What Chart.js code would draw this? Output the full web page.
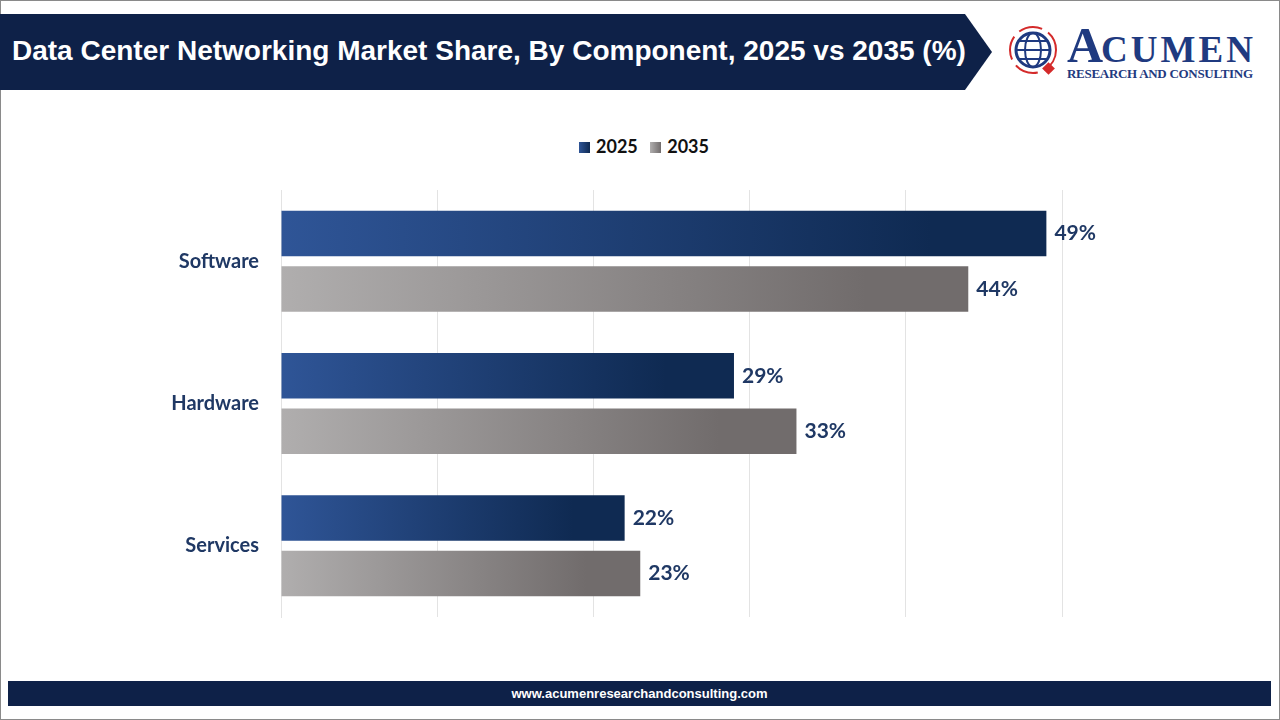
<!DOCTYPE html>
<html><head><meta charset="utf-8">
<script src="https://cdn.jsdelivr.net/npm/chart.js@4"></script>
<style>
body{margin:0;width:1280px;height:720px;position:relative;background:#fff;overflow:hidden;font-family:"Liberation Sans",Arial,sans-serif}
#frame{position:absolute;left:0;top:0;width:1278px;height:718px;border:1px solid #8a8a8a}
#hdr{position:absolute;left:0;top:14px;width:992px;height:76px;background:#0e2148;clip-path:polygon(0 0,965px 0,992px 38px,965px 76px,0 76px)}
#hdr span{position:absolute;left:12px;top:21px;color:#fff;font-weight:bold;font-size:28px;white-space:nowrap}
#logo{position:absolute;left:1003px;top:18px;width:270px;height:66px}
#ftr{position:absolute;left:8px;top:681px;width:1263px;height:25px;background:#0e2148;color:#fff;font-size:13px;font-weight:bold;text-align:center;line-height:25px}
#legend{position:absolute;top:135px;left:0;width:1280px;text-align:center;font-family:Lato,sans-serif;font-weight:bold;font-size:18px;color:#111}
#legend i{display:inline-block;width:11px;height:11px;margin:0 6px 0 8px;vertical-align:0px}
canvas{position:absolute;left:0;top:0}
</style></head><body>
<div id="frame"></div>
<div id="hdr"><span>Data Center Networking Market Share, By Component, 2025 vs 2035 (%)</span></div>
<div id="logo">
<svg width="270" height="66" viewBox="0 0 270 66">
<circle cx="30" cy="32" r="23" fill="none" stroke="#d42a2a" stroke-width="2" stroke-dasharray="24 7"/>
<circle cx="30" cy="32" r="17" fill="#fff" stroke="#1f3a80" stroke-width="3"/>
<ellipse cx="30" cy="32" rx="8" ry="17" fill="none" stroke="#1f3a80" stroke-width="2"/>
<line x1="13" y1="32" x2="47" y2="32" stroke="#1f3a80" stroke-width="2"/>
<line x1="15" y1="23" x2="45" y2="23" stroke="#1f3a80" stroke-width="2"/>
<line x1="15" y1="41" x2="45" y2="41" stroke="#1f3a80" stroke-width="2"/>
<rect x="41" y="46" width="9" height="9" fill="#d42a2a" transform="rotate(45 45.5 50.5)"/>
<text x="64" y="44" font-family="Liberation Serif,serif" font-weight="bold" font-size="50" fill="#1f3a80">A</text>
<text x="98" y="44" font-family="Liberation Serif,serif" font-weight="bold" font-size="37" fill="#1f3a80" textLength="152">CUMEN</text>
<text x="64" y="60" font-family="Liberation Serif,serif" font-weight="bold" font-size="13" fill="#1f3a80" textLength="186">RESEARCH AND CONSULTING</text>
</svg></div>
<div id="legend"><i style="background:linear-gradient(90deg,#2f5597,#0f2a52)"></i>2025 <i style="background:linear-gradient(90deg,#b0aeae,#716c6c)"></i>2035</div>
<div id="ftr">www.acumenresearchandconsulting.com</div>
<canvas id="c" width="1280" height="720"></canvas>
<script>
const categories=["Software","Hardware","Services"];
const values2025=[49,29,22];
const values2035=[44,33,23];
const seriesNames=["2025","2035"];
const grads=[["#2f5597","#0f2a52"],["#b0aeae","#716c6c"]];
function bg(i){return function(ctx){
  const ch=ctx.chart; if(!ch.chartArea||ctx.parsed==null) return grads[i][1];
  const x0=ch.scales.x.getPixelForValue(0), x1=ch.scales.x.getPixelForValue(ctx.parsed.x);
  const g=ch.ctx.createLinearGradient(x0,0,x1,0); g.addColorStop(0,grads[i][0]); g.addColorStop(0.85,grads[i][1]); g.addColorStop(1,grads[i][1]); return g;};}
const labelPlugin={id:'lbl',afterDatasetsDraw(ch){const c=ch.ctx;c.save();c.font='bold 21px Lato, sans-serif';c.fillStyle='#1f3864';c.textBaseline='middle';
 ch.data.datasets.forEach((d,i)=>ch.getDatasetMeta(i).data.forEach((b,j)=>c.fillText(d.data[j]+'%',b.x+8,b.y)));c.restore();}};
new Chart(document.getElementById('c'),{type:'bar',
 data:{labels:categories,datasets:[
  {label:seriesNames[0],data:values2025,backgroundColor:bg(0)},
  {label:seriesNames[1],data:values2035,backgroundColor:bg(1)}]},
 options:{indexAxis:'y',responsive:false,animation:false,
  categoryPercentage:0.78,barPercentage:0.82,
  layout:{padding:{top:190,bottom:103,left:0,right:218}},
  plugins:{legend:{display:false},tooltip:{enabled:false}},
  scales:{
   x:{min:0,max:50,ticks:{display:false,stepSize:10},grid:{color:'#e3e3e3',drawTicks:false},border:{display:false},afterFit(s){s.height=0;}},
   y:{ticks:{color:'#1f3864',font:{family:'Lato',weight:'bold',size:20},padding:14},grid:{display:false},border:{color:'#e3e3e3'},afterFit(s){s.width=281;}}
  }},
 plugins:[labelPlugin]});
</script>
</body></html>
